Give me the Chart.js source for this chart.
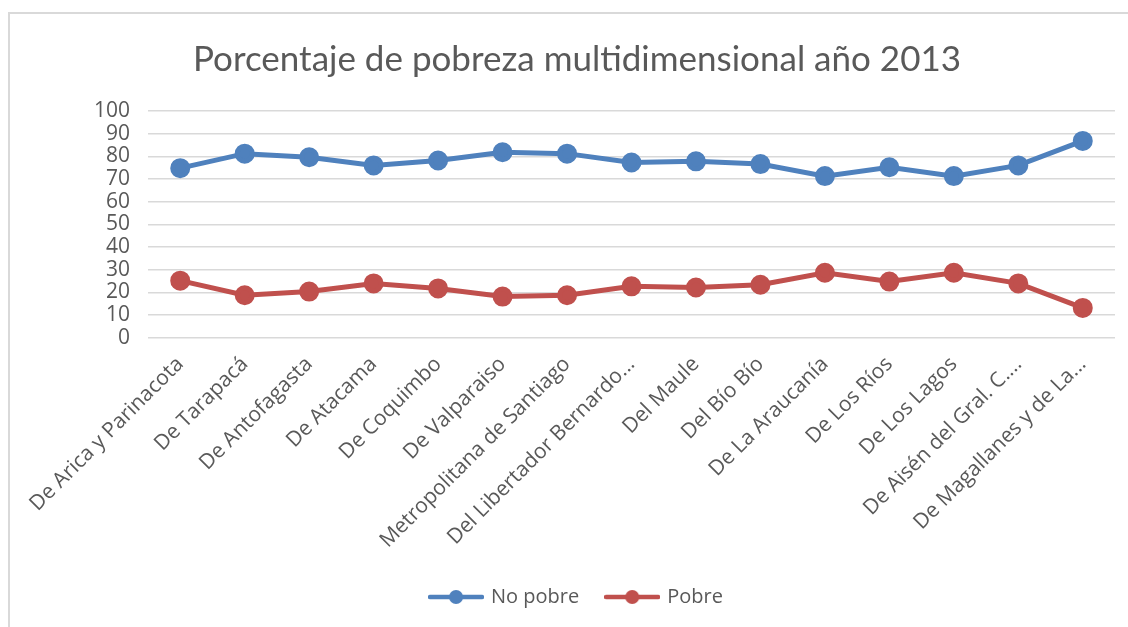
<!DOCTYPE html>
<html lang="es">
<head>
    <meta charset="UTF-8">
    <title>Porcentaje de pobreza multidimensional año 2013</title>
    <script src="https://cdn.jsdelivr.net/npm/chart.js"></script>
    <style>
        body { margin: 0; background: #fff; }
        #frame { position: absolute; left: 8px; top: 12px; width: 1140px; height: 640px; border: 2px solid #d9d9d9; box-sizing: border-box; }
        #chartContainer { position: absolute; left: 7px; top: 15px; width: 1121px; height: 612px; }
    </style>
</head>
<body>
    <div id="frame"></div>
    <div id="chartContainer">
        <canvas id="myChart"></canvas>
    </div>
    <script>
        const regiones = [
            'De Arica y Parinacota', 'De Tarapacá', 'De Antofagasta', 'De Atacama', 'De Coquimbo',
            'De Valparaiso', 'Metropolitana de Santiago', 'Del Libertador Bernardo...', 'Del Maule',
            'Del Bío Bío', 'De La Araucanía', 'De Los Ríos', 'De Los Lagos', 'De Aisén del Gral. C....',
            'De Magallanes y de La...'
        ];
        const noPobre = [74.8, 81.2, 79.6, 76.0, 78.2, 81.8, 81.2, 77.3, 77.8, 76.6, 71.3, 75.2, 71.3, 76.0, 86.8];
        const pobre = [25.2, 18.8, 20.4, 24.0, 21.8, 18.2, 18.8, 22.7, 22.2, 23.4, 28.7, 24.8, 28.7, 24.0, 13.2];
        const yTicks = [0, 10, 20, 30, 40, 50, 60, 70, 80, 90, 100];

        const azul = '#4f81bd';
        const rojo = '#c0504d';
        const gris = '#595959';

        // legend marker: line with a dot, like Excel
        function legendMarker(color) {
            const c = document.createElement('canvas');
            c.width = 56; c.height = 16;
            const g = c.getContext('2d');
            g.strokeStyle = color;
            g.lineWidth = 4.5;
            g.lineCap = 'round';
            g.beginPath(); g.moveTo(2, 8); g.lineTo(54, 8); g.stroke();
            g.fillStyle = color;
            g.beginPath(); g.arc(28, 8, 7, 0, Math.PI * 2); g.fill();
            return c;
        }

        const ctx = document.getElementById('myChart').getContext('2d');
        new Chart(ctx, {
            type: 'line',
            data: {
                labels: regiones,
                datasets: [{
                    label: 'No pobre',
                    data: noPobre,
                    borderColor: azul,
                    backgroundColor: azul,
                    borderWidth: 5,
                    pointRadius: 7.5,
                    pointHoverRadius: 7.5,
                    marker: legendMarker(azul)
                }, {
                    label: 'Pobre',
                    data: pobre,
                    borderColor: rojo,
                    backgroundColor: rojo,
                    borderWidth: 5,
                    pointRadius: 7.5,
                    pointHoverRadius: 7.5,
                    marker: legendMarker(rojo)
                }]
            },
            options: {
                responsive: true,
                maintainAspectRatio: false,
                animation: false,
                layout: { padding: { left: 32, right: 13, top: 0, bottom: 10 } },
                scales: {
                    x: {
                        offset: true,
                        grid: { display: false },
                        border: { display: false },
                        ticks: {
                            color: gris,
                            font: { family: 'Open Sans', size: 21 },
                            minRotation: 45,
                            maxRotation: 45,
                            autoSkip: false,
                            padding: 6
                        }
                    },
                    y: {
                        min: 0,
                        max: 100,
                        afterBuildTicks: axis => { axis.ticks = yTicks.map(v => ({ value: v })); },
                        afterFit: axis => { axis.width = 109; },
                        grid: { color: '#d9d9d9', lineWidth: 1.5, drawTicks: false },
                        border: { display: false },
                        ticks: {
                            color: gris,
                            font: { family: 'Open Sans', size: 21 },
                            padding: 18,
                            autoSkip: false
                        }
                    }
                },
                plugins: {
                    title: {
                        display: true,
                        text: 'Porcentaje de pobreza multidimensional año 2013',
                        color: gris,
                        font: { family: 'Lato', size: 35, weight: 'normal' },
                        padding: { top: 24, bottom: 30 }
                    },
                    legend: {
                        position: 'bottom',
                        labels: {
                            color: gris,
                            font: { family: 'Open Sans', size: 20 },
                            usePointStyle: true,
                            pointStyleWidth: 50,
                            padding: 28,
                            generateLabels: chart => chart.data.datasets.map((ds, i) => ({
                                text: ds.label,
                                pointStyle: ds.marker,
                                fillStyle: ds.borderColor,
                                strokeStyle: ds.borderColor,
                                lineWidth: 0,
                                fontColor: gris,
                                datasetIndex: i,
                                hidden: false
                            }))
                        }
                    },
                    tooltip: { enabled: false }
                }
            }
        });
    </script>
</body>
</html>
